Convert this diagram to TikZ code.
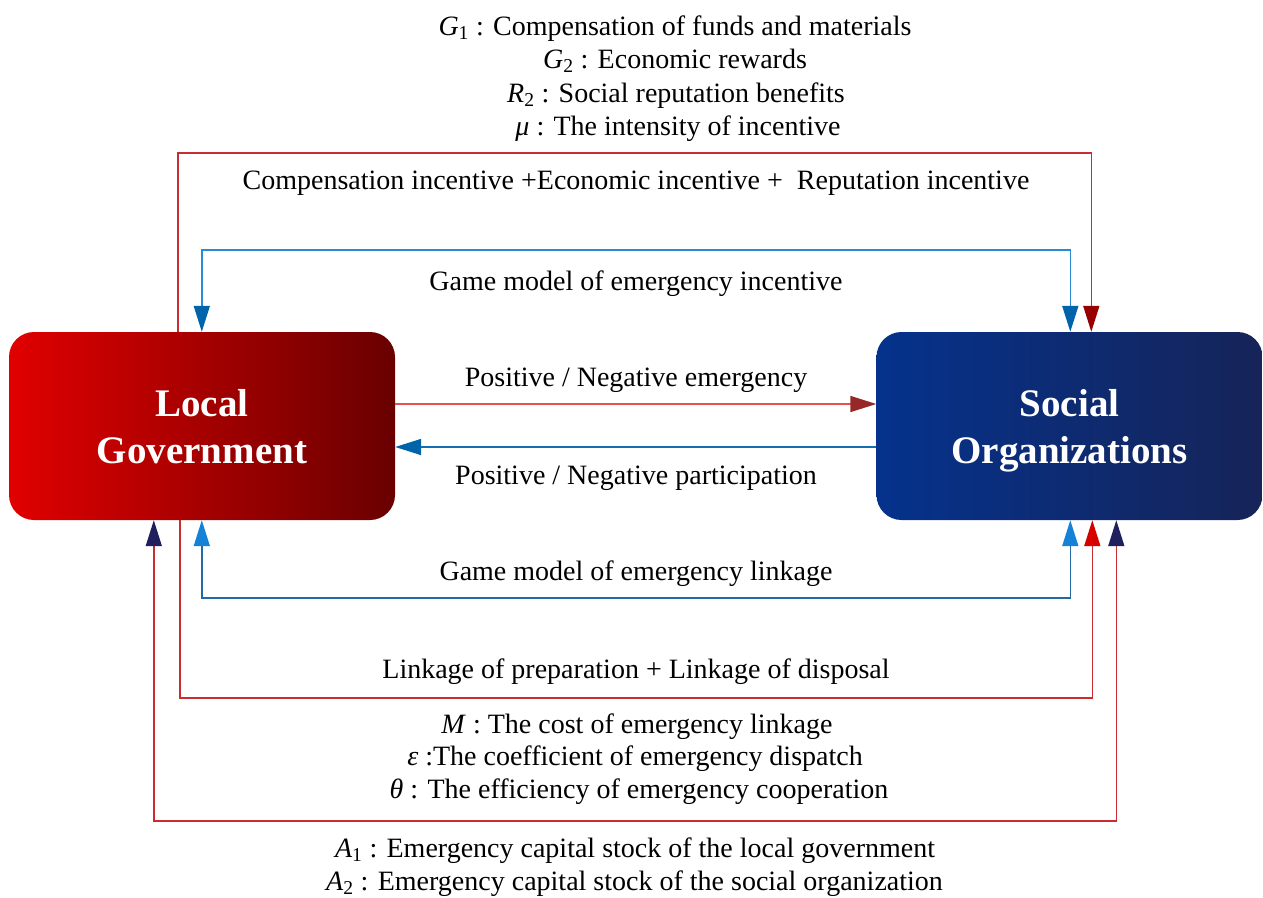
\documentclass[tikz,border=0pt]{standalone}
\usepackage{fontspec}
\setmainfont{Liberation Serif}
\usetikzlibrary{arrows.meta}
\definecolor{lgL}{RGB}{225,0,0}
\definecolor{lgM}{RGB}{195,0,0}
\definecolor{lgR}{RGB}{105,0,0}
\definecolor{soL}{RGB}{5,50,140}
\definecolor{soM}{RGB}{8,45,128}
\definecolor{soR}{RGB}{22,36,88}
\definecolor{lineRed}{RGB}{200,45,50}
\definecolor{tipDarkRed}{RGB}{150,0,0}
\definecolor{tipRed}{RGB}{215,0,0}
\definecolor{tipMidRed}{RGB}{150,40,40}
\definecolor{lineBlue}{RGB}{40,140,210}
\definecolor{lineBlueDk}{RGB}{35,105,165}
\definecolor{tipBlue}{RGB}{0,100,170}
\definecolor{tipLtBlue}{RGB}{20,130,215}
\definecolor{tipNavy}{RGB}{32,32,95}
\definecolor{lineMidRed}{RGB}{230,80,80}
\definecolor{lineMidBlue}{RGB}{20,110,180}
\tikzset{
  box/.style={rounded corners=25pt, minimum width=386pt, minimum height=188pt,
    inner sep=0pt, align=center, text=white, text depth=0pt,
    font=\bfseries\fontsize{39}{47}\selectfont},
  lbl/.style={anchor=base, inner sep=0pt, font=\fontsize{28}{33.5}\selectfont},
  conn/.style={line width=1.6pt},
  tipof/.style={-{Triangle[length=26pt,width=16pt,fill=#1,color=#1]}},
  tipboth/.style={{Triangle[length=26pt,width=16pt,fill=#1,color=#1]}-{Triangle[length=26pt,width=16pt,fill=#1,color=#1]}},
}
\begin{document}
\begin{tikzpicture}[x=1pt,y=-1pt]
\useasboundingbox (0,0) rectangle (1263,897);
% boxes
\node[box, left color=lgL, middle color=lgM, right color=lgR] (LG) at (202,426) {Local\\Government};
\node[box, left color=soL, middle color=soM, right color=soR] (SO) at (1069.5,426) {Social\\Organizations};
% top connectors
\draw[conn, draw=lineRed, tipof=tipDarkRed]
  ([xshift=169pt]LG.north west) |- ([xshift=215pt,yshift=179pt]SO.north west) -- ([xshift=215pt]SO.north west);
\draw[conn, draw=lineBlue, tipboth=tipBlue]
  ([xshift=193pt]LG.north west) |- ([xshift=194pt,yshift=82pt]SO.north west) -- ([xshift=194pt]SO.north west);
% middle connectors
\draw[conn, draw=lineMidRed, tipof=tipMidRed] ([yshift=22pt]LG.east) -- ([yshift=22pt]SO.west);
\draw[conn, draw=lineMidBlue, tipof=tipBlue] ([yshift=-21pt]SO.west) -- ([yshift=-21pt]LG.east);
% bottom connectors
\draw[conn, draw=lineBlueDk, tipboth=tipLtBlue]
  ([xshift=193pt]LG.south west) |- ([xshift=194pt,yshift=-78pt]SO.south west) -- ([xshift=194pt]SO.south west);
\draw[conn, draw=lineRed, tipof=tipRed]
  ([xshift=171pt]LG.south west) |- ([xshift=216pt,yshift=-178pt]SO.south west) -- ([xshift=216pt]SO.south west);
\draw[conn, draw=lineRed, tipboth=tipNavy]
  ([xshift=145pt]LG.south west) |- ([xshift=240pt,yshift=-301pt]SO.south west) -- ([xshift=240pt]SO.south west);
% labels
\node[lbl] (t1) at (675,35) {\textit{G}\textsubscript{1} : Compensation of funds and materials};
\node[lbl] (t2) at (675,68.5) {\textit{G}\textsubscript{2} : Economic rewards};
\node[lbl] (t3) at (676,102) {\textit{R}\textsubscript{2} : Social reputation benefits};
\node[lbl] (t4) at (678,135) {\textit{μ} : The intensity of incentive};
\node[lbl] (inc) at (636,189) {Compensation incentive +Economic incentive +\ \ Reputation incentive};
\node[lbl] (gmi) at (636,290) {Game model of emergency incentive};
\node[lbl] (pne) at (636,386) {Positive / Negative emergency};
\node[lbl] (pnp) at (636,484) {Positive / Negative participation};
\node[lbl] (gml) at (636,580) {Game model of emergency linkage};
\node[lbl] (lpd) at (636,678) {Linkage of preparation + Linkage of disposal};
\node[lbl] (m1) at (637,733) {\textit{M} : The cost of emergency linkage};
\node[lbl] (m2) at (635,765.5) {\textit{ε} :The coefficient of emergency dispatch};
\node[lbl] (m3) at (639,798) {\textit{θ} : The efficiency of emergency cooperation};
\node[lbl] (a1) at (635,857) {\textit{A}\textsubscript{1} : Emergency capital stock of the local government};
\node[lbl] (a2) at (634.5,890) {\textit{A}\textsubscript{2} : Emergency capital stock of the social organization};
\end{tikzpicture}
\end{document}
